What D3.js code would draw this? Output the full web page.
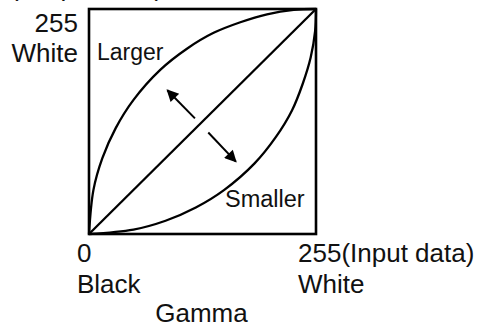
<!DOCTYPE html>
<html>
<head>
<meta charset="utf-8">
<script src="https://cdn.jsdelivr.net/npm/d3@7"></script>
<style>
  html, body { margin: 0; padding: 0; background: #fff; }
  svg { display: block; }
  text { font-family: "Liberation Sans", Arial, Helvetica, sans-serif; fill: #111; }
</style>
</head>
<body>
<div id="chart"></div>
<script>
// input / output levels (0-255)
const inputLevels = [0, 5, 15, 30, 50, 80, 110, 140, 170, 200, 230, 255];
const largerOutput = [0, 50, 86, 120, 152, 186, 210, 228, 240, 249, 254, 255];
const smallerInput = [0, 50, 86, 120, 152, 186, 210, 228, 240, 249, 254, 255];
const smallerOutput = [0, 5, 15, 30, 50, 80, 110, 140, 170, 200, 230, 255];
const linearLevels = [0, 255];

// arrows: [from input, from output, to input, to output]
const arrowUp = [119, 131, 88, 163];
const arrowDown = [134, 115, 165, 82];

const xTicks = [0, 255];
const xTickLabels = ["0", "255(Input data)"];
const xTickSubLabels = ["Black", "White"];
const yTickLabels = ["255", "White"];
const yTitle = "(Output data)";
const xTitle = "Gamma";
const curveLabels = ["Larger", "Smaller"];

const width = 481, height = 329;
const margin = { top: 9, right: 165, bottom: 95, left: 89 };
const w = width - margin.left - margin.right;
const h = height - margin.top - margin.bottom;

const svg = d3.select("#chart").append("svg")
    .attr("width", width)
    .attr("height", height);

const x = d3.scaleLinear().domain([0, 255]).range([margin.left, margin.left + w]);
const y = d3.scaleLinear().domain([0, 255]).range([margin.top + h, margin.top]);

svg.append("defs").append("marker")
    .attr("id", "head")
    .attr("viewBox", "0 0 10 10")
    .attr("refX", 9)
    .attr("refY", 5)
    .attr("markerWidth", 15)
    .attr("markerHeight", 12)
    .attr("markerUnits", "userSpaceOnUse")
    .attr("orient", "auto")
    .append("path")
    .attr("d", "M0,0 L10,5 L0,10 Z")
    .attr("fill", "#000");

const line = d3.line()
    .x(d => x(d[0]))
    .y(d => y(d[1]))
    .curve(d3.curveCatmullRom.alpha(0.5));

const larger = d3.zip(inputLevels, largerOutput);
const smaller = d3.zip(smallerInput, smallerOutput);
const linear = d3.zip(linearLevels, linearLevels);

[larger, smaller, linear].forEach(pts => {
    svg.append("path")
        .datum(pts)
        .attr("fill", "none")
        .attr("stroke", "#000")
        .attr("stroke-width", 2.3)
        .attr("d", line);
});

// frame
svg.append("rect")
    .attr("x", x(0))
    .attr("y", y(255))
    .attr("width", x(255) - x(0))
    .attr("height", y(0) - y(255))
    .attr("fill", "none")
    .attr("stroke", "#000")
    .attr("stroke-width", 2.6);

[arrowUp, arrowDown].forEach(a => {
    svg.append("line")
        .attr("x1", x(a[0])).attr("y1", y(a[1]))
        .attr("x2", x(a[2])).attr("y2", y(a[3]))
        .attr("stroke", "#000")
        .attr("stroke-width", 2)
        .attr("marker-end", "url(#head)");
});

const fs = 26;

// x tick labels
xTicks.forEach((v, i) => {
    const tx = x(v) - (i === 0 ? 12 : 18);
    svg.append("text")
        .attr("x", tx).attr("y", y(0) + 28)
        .style("font-size", fs + "px")
        .text(xTickLabels[i]);
    svg.append("text")
        .attr("x", tx).attr("y", y(0) + 59)
        .style("font-size", fs + "px")
        .text(xTickSubLabels[i]);
});

// y tick labels at 255
yTickLabels.forEach((t, i) => {
    svg.append("text")
        .attr("x", x(0) - 11)
        .attr("y", y(255) + 23 + i * 30)
        .attr("text-anchor", "end")
        .style("font-size", fs + "px")
        .text(t);
});

// clipped at the top edge, as in the original
svg.append("text")
    .attr("x", 10).attr("y", -4)
    .style("font-size", fs + "px")
    .text(yTitle);

svg.append("text")
    .attr("x", (x(0) + x(255)) / 2 - 1)
    .attr("y", y(0) + 88)
    .attr("text-anchor", "middle")
    .style("font-size", fs + "px")
    .text(xTitle);

svg.append("text")
    .attr("x", x(0) + 8).attr("y", y(255) + 51)
    .style("font-size", "23px")
    .text(curveLabels[0]);

svg.append("text")
    .attr("x", x(255) - 91).attr("y", y(0) - 27)
    .style("font-size", "23.5px")
    .text(curveLabels[1]);
</script>
</body>
</html>
